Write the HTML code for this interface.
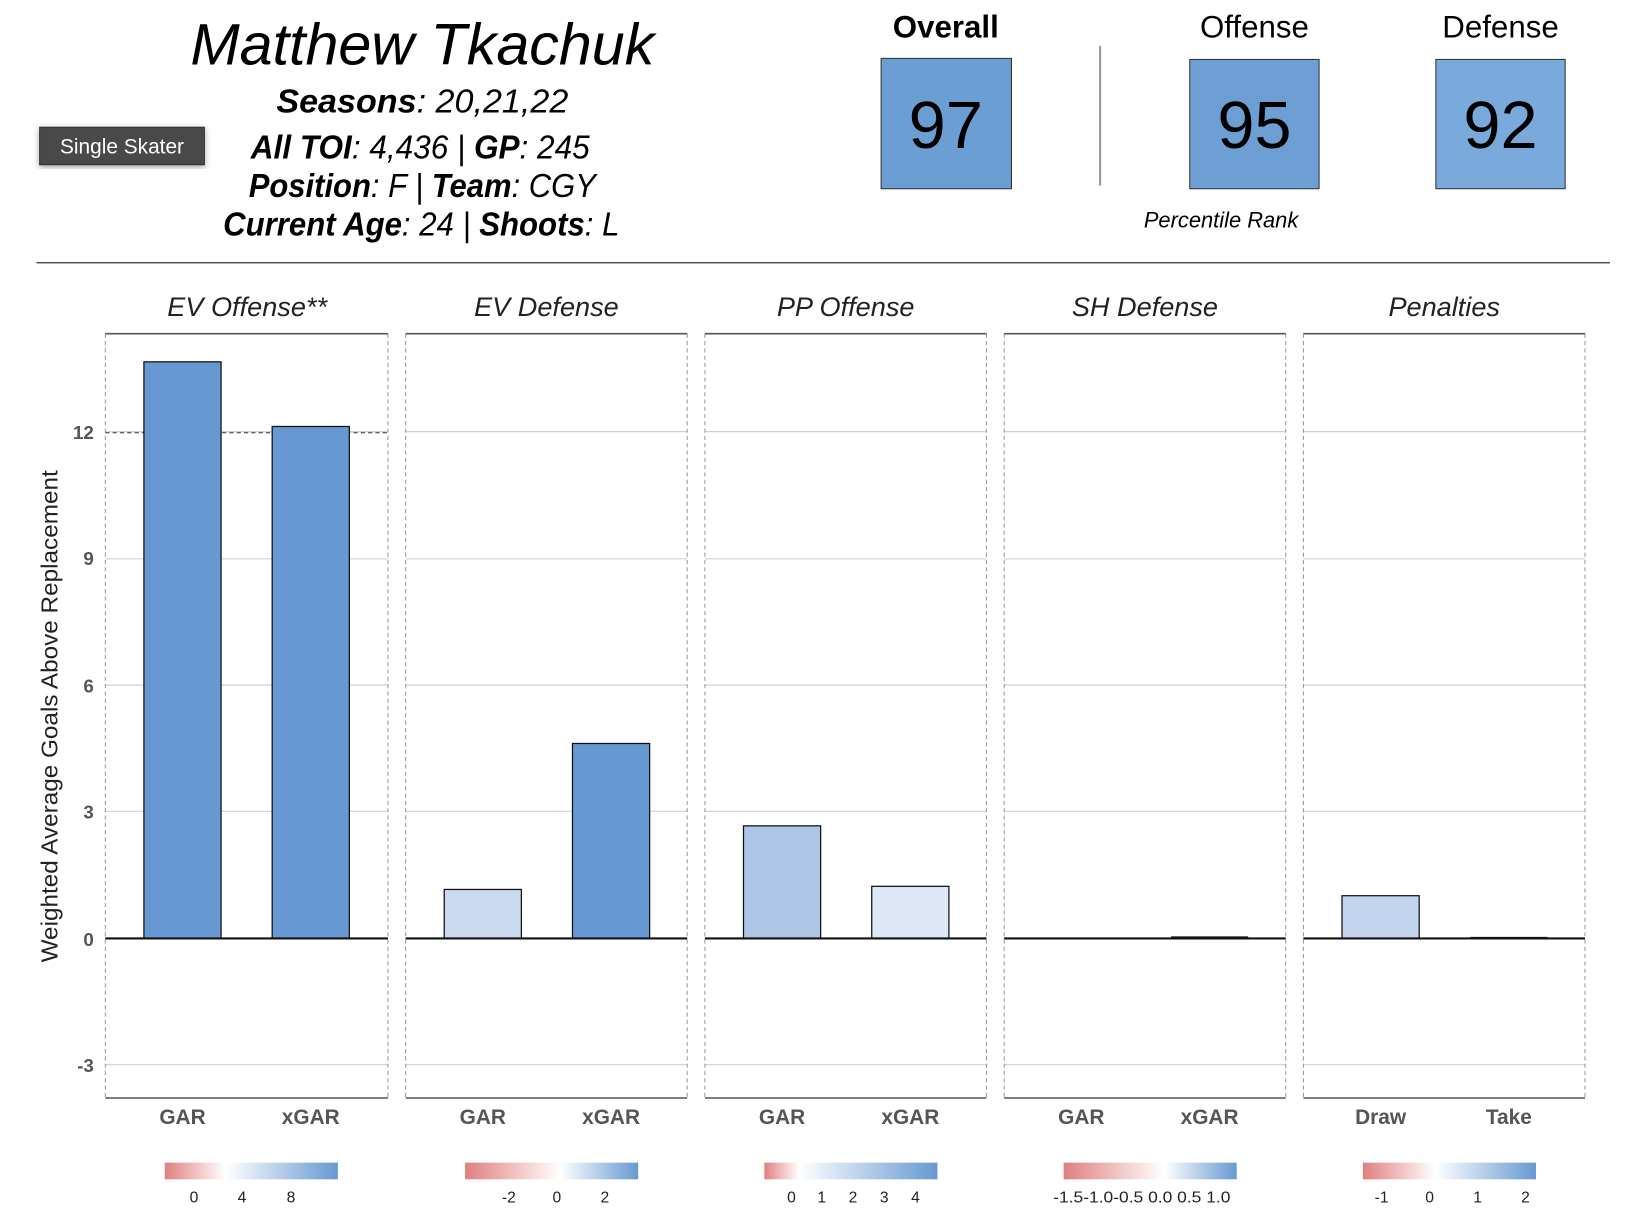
<!DOCTYPE html>
<html><head><meta charset="utf-8"><style>html,body{margin:0;padding:0;background:#fff}svg{display:block}</style></head><body>
<svg width="1634" height="1220" viewBox="0 0 1567 1170" xmlns="http://www.w3.org/2000/svg" font-family="Liberation Sans, sans-serif">
<defs>
<linearGradient id="g1"><stop offset="0" stop-color="#e07f7f"/><stop offset="0.35" stop-color="#fff"/><stop offset="1" stop-color="#6699d1"/></linearGradient>
<linearGradient id="g2"><stop offset="0" stop-color="#e07f7f"/><stop offset="0.55" stop-color="#fff"/><stop offset="1" stop-color="#6699d1"/></linearGradient>
<linearGradient id="g3"><stop offset="0" stop-color="#e07f7f"/><stop offset="0.2" stop-color="#fff"/><stop offset="1" stop-color="#6699d1"/></linearGradient>
<linearGradient id="g4"><stop offset="0" stop-color="#e07f7f"/><stop offset="0.58" stop-color="#fff"/><stop offset="1" stop-color="#6699d1"/></linearGradient>
<linearGradient id="g5"><stop offset="0" stop-color="#e07f7f"/><stop offset="0.42" stop-color="#fff"/><stop offset="1" stop-color="#6699d1"/></linearGradient>
<filter id="sh"><feDropShadow dx="0" dy="2" stdDeviation="3" flood-opacity="0.35"/></filter>
</defs>
<text x="405" y="62" text-anchor="middle" font-size="56" font-style="italic" textLength="445" lengthAdjust="spacingAndGlyphs">Matthew Tkachuk</text>
<g font-size="32" font-style="italic" text-anchor="middle">
<text x="405" y="108" textLength="280" lengthAdjust="spacingAndGlyphs"><tspan font-weight="bold">Seasons</tspan>: 20,21,22</text>
<text x="403" y="152" textLength="325" lengthAdjust="spacingAndGlyphs"><tspan font-weight="bold">All TOI</tspan>: 4,436 | <tspan font-weight="bold">GP</tspan>: 245</text>
<text x="405" y="189" textLength="333" lengthAdjust="spacingAndGlyphs"><tspan font-weight="bold">Position</tspan>: F | <tspan font-weight="bold">Team</tspan>: CGY</text>
<text x="404" y="226" textLength="380" lengthAdjust="spacingAndGlyphs"><tspan font-weight="bold">Current Age</tspan>: 24 | <tspan font-weight="bold">Shoots</tspan>: L</text>
</g>
<rect x="38" y="122" width="158" height="36" fill="#4a4a4a" stroke="#333" filter="url(#sh)"/>
<text x="117" y="147" text-anchor="middle" font-size="20" fill="#fff">Single Skater</text>
<text x="907" y="36" text-anchor="middle" font-size="30" font-weight="bold">Overall</text>
<text x="1203" y="36" text-anchor="middle" font-size="30">Offense</text>
<text x="1439" y="36" text-anchor="middle" font-size="30">Defense</text>
<rect x="845" y="56" width="125" height="125" fill="#6b9fd4" stroke="#333"/>
<rect x="1141" y="57" width="124" height="124" fill="#6d9fd5" stroke="#333"/>
<rect x="1377" y="57" width="124" height="124" fill="#7aaadc" stroke="#333"/>
<g font-size="64" text-anchor="middle"><text x="907" y="142">97</text><text x="1203" y="142">95</text><text x="1439" y="142">92</text></g>
<line x1="1055" y1="44" x2="1055" y2="178" stroke="#999" stroke-width="2"/>
<text x="1171" y="218" text-anchor="middle" font-size="21" font-style="italic">Percentile Rank</text>
<line x1="35" y1="252" x2="1544" y2="252" stroke="#333" stroke-width="1.2"/>
<text transform="translate(55,687) rotate(-90)" text-anchor="middle" font-size="22" fill="#222" textLength="472" lengthAdjust="spacingAndGlyphs">Weighted Average Goals Above Replacement</text>
<g font-size="18" font-weight="bold" fill="#555" text-anchor="end">
<text x="90" y="421">12</text><text x="90" y="542">9</text><text x="90" y="664">6</text><text x="90" y="785">3</text><text x="90" y="907">0</text><text x="90" y="1028">-3</text>
</g>
<g stroke="#ccc" stroke-width="1">
<path d="M101 414H372M101 536H372M101 657H372M101 778H372M101 1021H372"/>
<path d="M389 414H659M389 536H659M389 657H659M389 778H659M389 1021H659"/>
<path d="M676 414H946M676 536H946M676 657H946M676 778H946M676 1021H946"/>
<path d="M963 414H1233M963 536H1233M963 657H1233M963 778H1233M963 1021H1233"/>
<path d="M1250 414H1520M1250 536H1520M1250 657H1520M1250 778H1520M1250 1021H1520"/>
</g>
<g stroke="#999" stroke-dasharray="4,3" fill="none">
<path d="M101 320V1053M372 320V1053M389 320V1053M659 320V1053M676 320V1053M946 320V1053M963 320V1053M1233 320V1053M1250 320V1053M1520 320V1053"/>
</g>
<g stroke="#555" stroke-width="1.5">
<path d="M101 320H372M389 320H659M676 320H946M963 320H1233M1250 320H1520"/>
<path d="M101 1053H372M389 1053H659M676 1053H946M963 1053H1233M1250 1053H1520"/>
</g>
<line x1="101" y1="415" x2="372" y2="415" stroke="#333" stroke-dasharray="4,3"/>
<g stroke="#111" stroke-width="1.2">
<rect x="138" y="347" width="74" height="553" fill="#6699d1"/>
<rect x="261" y="409" width="74" height="491" fill="#6699d1"/>
<rect x="426" y="853" width="74" height="47" fill="#c9d9ee"/>
<rect x="549" y="713" width="74" height="187" fill="#6699d1"/>
<rect x="713" y="792" width="74" height="108" fill="#adc6e6"/>
<rect x="836" y="850" width="74" height="50" fill="#dde7f5"/>
<rect x="1287" y="859" width="74" height="41" fill="#c3d4ee"/>
</g>
<g stroke="#111" stroke-width="2">
<path d="M101 900H372M389 900H659M676 900H946M963 900H1233M1250 900H1520"/>
<path d="M1123 899H1197M1410 899.5H1484"/>
</g>
<g font-size="26" font-style="italic" text-anchor="middle" fill="#222">
<text x="237" y="303">EV Offense**</text><text x="524" y="303">EV Defense</text><text x="811" y="303">PP Offense</text><text x="1098" y="303">SH Defense</text><text x="1385" y="303">Penalties</text>
</g>
<g font-size="20" font-weight="bold" fill="#555" text-anchor="middle">
<text x="175" y="1078">GAR</text><text x="298" y="1078">xGAR</text>
<text x="463" y="1078">GAR</text><text x="586" y="1078">xGAR</text>
<text x="750" y="1078">GAR</text><text x="873" y="1078">xGAR</text>
<text x="1037" y="1078">GAR</text><text x="1160" y="1078">xGAR</text>
<text x="1324" y="1078">Draw</text><text x="1447" y="1078">Take</text>
</g>
<rect x="158" y="1115" width="166" height="16" fill="url(#g1)"/>
<rect x="446" y="1115" width="166" height="16" fill="url(#g2)"/>
<rect x="733" y="1115" width="166" height="16" fill="url(#g3)"/>
<rect x="1020" y="1115" width="166" height="16" fill="url(#g4)"/>
<rect x="1307" y="1115" width="166" height="16" fill="url(#g5)"/>
<g font-size="15" text-anchor="middle" fill="#222">
<text x="186" y="1153">0</text><text x="232" y="1153">4</text><text x="279" y="1153">8</text>
<text x="488" y="1153">-2</text><text x="534" y="1153">0</text><text x="580" y="1153">2</text>
<text x="759" y="1153">0</text><text x="788" y="1153">1</text><text x="818" y="1153">2</text><text x="848" y="1153">3</text><text x="878" y="1153">4</text>
<text x="1095" y="1153" textLength="170" lengthAdjust="spacingAndGlyphs">-1.5-1.0-0.5 0.0 0.5 1.0</text>
<text x="1325" y="1153">-1</text><text x="1371" y="1153">0</text><text x="1417" y="1153">1</text><text x="1463" y="1153">2</text>
</g>
</svg>
</body></html>
